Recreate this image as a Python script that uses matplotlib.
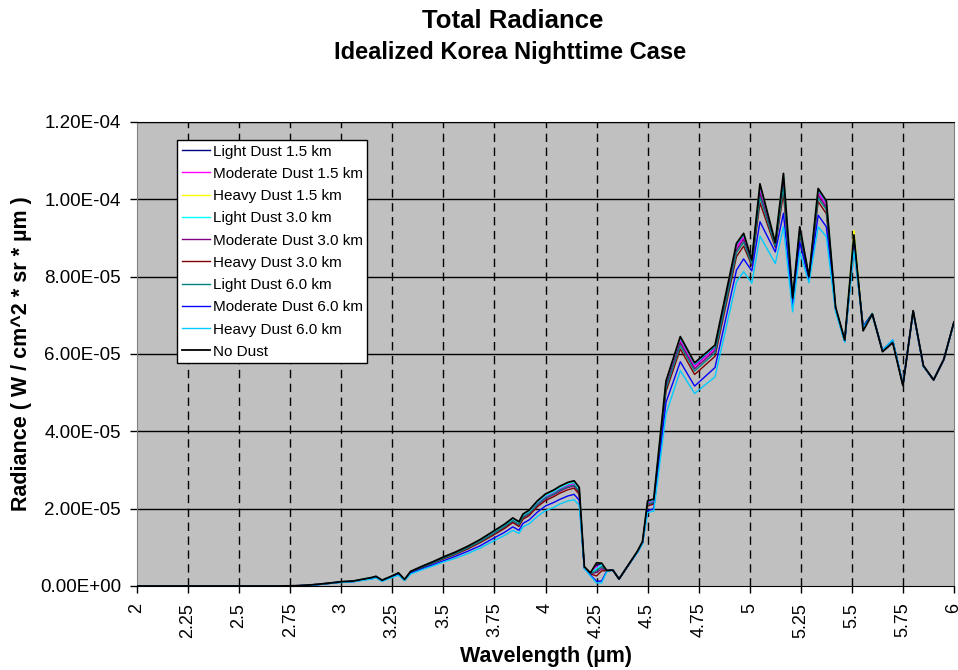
import matplotlib
matplotlib.use("Agg")
import matplotlib.pyplot as plt
import numpy as np

plt.rcParams['font.family'] = ['Liberation Sans', 'DejaVu Sans']

# Wavelength grid (µm)
wavelength = [2.00, 2.25, 2.50, 2.70, 2.80, 2.88, 2.95, 3.00, 3.06, 3.11,
              3.15, 3.17, 3.20, 3.24, 3.28, 3.31, 3.34, 3.40, 3.45, 3.50,
              3.56, 3.62, 3.68, 3.74, 3.80, 3.84, 3.87, 3.89, 3.92, 3.96,
              4.00, 4.04, 4.07, 4.11, 4.14, 4.165, 4.19, 4.22, 4.25, 4.275,
              4.30, 4.33, 4.36, 4.41, 4.45, 4.475, 4.50, 4.53, 4.59, 4.66,
              4.73, 4.83, 4.935, 4.97, 5.01, 5.05, 5.125, 5.165, 5.21, 5.245,
              5.29, 5.335, 5.375, 5.42, 5.465, 5.51, 5.555, 5.60, 5.65, 5.70,
              5.75, 5.80, 5.85, 5.90, 5.95, 6.00]

# Radiance values in units of 1e-5 W / cm^2 / sr / µm
light_1_5 = [0, 0, 0, 0, 0.01, 0.04, 0.08, 0.11, 0.13, 0.18,
             0.22, 0.25, 0.15, 0.24, 0.33, 0.17, 0.37, 0.51, 0.62, 0.74,
             0.86, 1.01, 1.18, 1.37, 1.57, 1.72, 1.63, 1.82, 1.92, 2.16,
             2.33, 2.43, 2.53, 2.63, 2.67, 2.50, 0.49, 0.33, 0.55, 0.56,
             0.40, 0.41, 0.18, 0.58, 0.89, 1.14, 2.16, 2.21, 5.25, 6.39,
             5.71, 6.17, 8.79, 9.05, 8.40, 10.30, 8.86, 10.57, 7.43, 9.25,
             7.99, 10.21, 9.89, 7.21, 6.36, 9.02, 6.68, 7.04, 6.08, 6.32,
             5.19, 7.12, 5.70, 5.33, 5.86, 6.83]
moderate_1_5 = [0, 0, 0, 0, 0.01, 0.04, 0.08, 0.11, 0.13, 0.17,
                0.21, 0.24, 0.15, 0.23, 0.33, 0.16, 0.37, 0.50, 0.61, 0.73,
                0.85, 1.00, 1.16, 1.36, 1.55, 1.71, 1.61, 1.80, 1.90, 2.13,
                2.31, 2.41, 2.50, 2.60, 2.64, 2.47, 0.49, 0.33, 0.50, 0.52,
                0.40, 0.41, 0.18, 0.58, 0.89, 1.14, 2.14, 2.19, 5.22, 6.35,
                5.68, 6.14, 8.76, 9.02, 8.39, 10.25, 8.84, 10.52, 7.41, 9.23,
                7.99, 10.18, 9.86, 7.20, 6.35, 8.98, 6.70, 7.04, 6.08, 6.33,
                5.19, 7.12, 5.70, 5.33, 5.86, 6.83]
heavy_1_5 = [0, 0, 0, 0, 0.01, 0.04, 0.08, 0.11, 0.13, 0.18,
             0.22, 0.25, 0.15, 0.24, 0.34, 0.17, 0.38, 0.51, 0.62, 0.74,
             0.87, 1.02, 1.19, 1.39, 1.58, 1.74, 1.64, 1.84, 1.94, 2.18,
             2.36, 2.46, 2.55, 2.65, 2.69, 2.52, 0.50, 0.34, 0.60, 0.58,
             0.40, 0.41, 0.18, 0.58, 0.90, 1.15, 2.19, 2.24, 5.29, 6.44,
             5.76, 6.22, 8.85, 9.11, 8.42, 10.38, 8.88, 10.65, 7.45, 9.28,
             8.00, 10.27, 9.95, 7.22, 6.36, 9.20, 6.68, 7.05, 6.08, 6.32,
             5.18, 7.13, 5.70, 5.33, 5.86, 6.83]
light_3_0 = [0, 0, 0, 0, 0.01, 0.04, 0.08, 0.11, 0.13, 0.18,
             0.22, 0.25, 0.15, 0.24, 0.33, 0.17, 0.37, 0.51, 0.62, 0.74,
             0.87, 1.01, 1.18, 1.38, 1.58, 1.73, 1.64, 1.83, 1.93, 2.17,
             2.34, 2.44, 2.54, 2.64, 2.68, 2.51, 0.49, 0.33, 0.45, 0.55,
             0.40, 0.41, 0.18, 0.58, 0.89, 1.14, 2.18, 2.22, 5.27, 6.42,
             5.74, 6.20, 8.83, 9.09, 8.42, 10.35, 8.87, 10.62, 7.44, 9.27,
             8.00, 10.25, 9.93, 7.21, 6.36, 9.05, 6.70, 7.05, 6.08, 6.33,
             5.19, 7.12, 5.70, 5.33, 5.86, 6.83]
moderate_3_0 = [0, 0, 0, 0, 0.01, 0.04, 0.08, 0.10, 0.12, 0.17,
                0.21, 0.24, 0.14, 0.23, 0.32, 0.16, 0.36, 0.49, 0.60, 0.71,
                0.84, 0.98, 1.14, 1.33, 1.52, 1.67, 1.58, 1.77, 1.86, 2.09,
                2.26, 2.36, 2.45, 2.55, 2.58, 2.42, 0.48, 0.32, 0.35, 0.45,
                0.40, 0.41, 0.18, 0.57, 0.88, 1.13, 2.10, 2.15, 5.16, 6.29,
                5.62, 6.09, 8.69, 8.96, 8.36, 10.16, 8.82, 10.41, 7.39, 9.19,
                7.98, 10.11, 9.79, 7.19, 6.35, 8.92, 6.71, 7.04, 6.09, 6.34,
                5.20, 7.11, 5.69, 5.33, 5.86, 6.82]
heavy_3_0 = [0, 0, 0, 0, 0.01, 0.04, 0.07, 0.10, 0.12, 0.17,
             0.20, 0.23, 0.14, 0.22, 0.32, 0.16, 0.35, 0.48, 0.59, 0.70,
             0.82, 0.96, 1.12, 1.30, 1.49, 1.64, 1.54, 1.73, 1.82, 2.05,
             2.21, 2.31, 2.40, 2.49, 2.53, 2.37, 0.48, 0.31, 0.26, 0.39,
             0.40, 0.41, 0.18, 0.57, 0.88, 1.12, 2.07, 2.12, 5.03, 6.13,
             5.47, 5.94, 8.52, 8.79, 8.29, 9.91, 8.76, 10.16, 7.33, 9.10,
             7.95, 9.94, 9.63, 7.18, 6.34, 8.88, 6.71, 7.04, 6.09, 6.35,
             5.20, 7.10, 5.69, 5.33, 5.85, 6.82]
light_6_0 = [0, 0, 0, 0, 0.01, 0.04, 0.08, 0.11, 0.12, 0.17,
             0.21, 0.24, 0.14, 0.23, 0.33, 0.16, 0.36, 0.50, 0.60, 0.72,
             0.84, 0.99, 1.15, 1.34, 1.54, 1.69, 1.59, 1.79, 1.88, 2.11,
             2.28, 2.38, 2.48, 2.57, 2.61, 2.45, 0.48, 0.32, 0.40, 0.50,
             0.40, 0.41, 0.18, 0.57, 0.88, 1.13, 2.11, 2.16, 5.11, 6.22,
             5.56, 6.03, 8.62, 8.89, 8.33, 10.06, 8.80, 10.31, 7.36, 9.15,
             7.97, 10.04, 9.73, 7.20, 6.35, 8.95, 6.72, 7.05, 6.09, 6.34,
             5.19, 7.11, 5.69, 5.33, 5.86, 6.82]
moderate_6_0 = [0, 0, 0, 0, 0.01, 0.03, 0.07, 0.10, 0.11, 0.16,
                0.19, 0.22, 0.13, 0.21, 0.30, 0.15, 0.33, 0.45, 0.55, 0.65,
                0.77, 0.90, 1.04, 1.22, 1.39, 1.53, 1.44, 1.62, 1.71, 1.91,
                2.07, 2.16, 2.24, 2.33, 2.37, 2.22, 0.46, 0.28, 0.12, 0.13,
                0.39, 0.41, 0.18, 0.57, 0.87, 1.10, 1.95, 2.00, 4.75, 5.80,
                5.17, 5.65, 8.17, 8.46, 8.15, 9.42, 8.64, 9.64, 7.20, 8.90,
                7.90, 9.59, 9.29, 7.14, 6.32, 8.78, 6.70, 7.02, 6.10, 6.36,
                5.21, 7.09, 5.68, 5.33, 5.85, 6.81]
heavy_6_0 = [0, 0, 0, 0, 0.01, 0.03, 0.07, 0.09, 0.11, 0.15,
             0.18, 0.21, 0.12, 0.20, 0.28, 0.14, 0.31, 0.43, 0.52, 0.62,
             0.72, 0.84, 0.98, 1.15, 1.31, 1.44, 1.36, 1.53, 1.61, 1.80,
             1.95, 2.03, 2.12, 2.20, 2.23, 2.09, 0.45, 0.26, 0.08, 0.08,
             0.37, 0.41, 0.18, 0.57, 0.86, 1.09, 1.90, 1.94, 4.45, 5.57,
             4.98, 5.41, 7.87, 8.13, 7.83, 9.05, 8.34, 9.29, 7.09, 8.64,
             7.84, 9.29, 9.03, 7.10, 6.30, 8.69, 6.68, 7.00, 6.10, 6.37,
             5.22, 7.08, 5.68, 5.33, 5.85, 6.80]
no_dust = [0, 0, 0, 0, 0.01, 0.04, 0.08, 0.11, 0.13, 0.18,
           0.22, 0.25, 0.15, 0.24, 0.34, 0.17, 0.38, 0.52, 0.63, 0.75,
           0.88, 1.03, 1.20, 1.40, 1.60, 1.76, 1.66, 1.86, 1.96, 2.20,
           2.38, 2.48, 2.58, 2.68, 2.72, 2.55, 0.50, 0.34, 0.60, 0.59,
           0.40, 0.41, 0.18, 0.58, 0.90, 1.15, 2.20, 2.25, 5.30, 6.45,
           5.77, 6.23, 8.86, 9.12, 8.43, 10.40, 8.88, 10.67, 7.45, 9.29,
           8.00, 10.28, 9.96, 7.22, 6.36, 9.08, 6.60, 7.03, 6.06, 6.29,
           5.18, 7.12, 5.70, 5.33, 5.86, 6.83]

series_labels = ["Light Dust 1.5 km", "Moderate Dust 1.5 km", "Heavy Dust 1.5 km",
                 "Light Dust 3.0 km", "Moderate Dust 3.0 km", "Heavy Dust 3.0 km",
                 "Light Dust 6.0 km", "Moderate Dust 6.0 km", "Heavy Dust 6.0 km",
                 "No Dust"]
series_values = [light_1_5, moderate_1_5, heavy_1_5, light_3_0, moderate_3_0,
                 heavy_3_0, light_6_0, moderate_6_0, heavy_6_0, no_dust]
series_colors = ["#000080", "#FF00FF", "#FFFF00", "#00FFFF", "#800080",
                 "#800000", "#008080", "#0000FF", "#00CCFF", "#000000"]

x_ticks = [2, 2.25, 2.5, 2.75, 3, 3.25, 3.5, 3.75, 4, 4.25, 4.5, 4.75,
           5, 5.25, 5.5, 5.75, 6]
x_tick_labels = ["2", "2.25", "2.5", "2.75", "3", "3.25", "3.5", "3.75", "4",
                 "4.25", "4.5", "4.75", "5", "5.25", "5.5", "5.75", "6"]
y_ticks = [0, 2e-5, 4e-5, 6e-5, 8e-5, 1e-4, 1.2e-4]
y_tick_labels = ["0.00E+00", "2.00E-05", "4.00E-05", "6.00E-05", "8.00E-05",
                 "1.00E-04", "1.20E-04"]

SCALE = 1e-5

fig = plt.figure(figsize=(9.58, 6.70), dpi=100)
ax = fig.add_axes([137/958, 1-586/670, (954-137)/958, (586-122)/670])
ax.set_facecolor("#C0C0C0")

x = np.array(wavelength)
for vals, lab, col in zip(series_values, series_labels, series_colors):
    lw = 1.3 if col == "#000000" else 1.0
    ax.plot(x, np.array(vals) * SCALE, color=col, lw=lw, label=lab, zorder=3)

ax.set_xlim(2, 6)
ax.set_ylim(0, 1.2e-4)
ax.set_xticks(x_ticks)
ax.set_xticklabels(x_tick_labels, rotation=90, va="top", ha="center", fontsize=13)
ax.set_yticks(y_ticks)
ax.set_yticklabels(y_tick_labels, fontsize=13.5)
ax.tick_params(axis="both", direction="out", length=5, width=1, color="black")
ax.tick_params(axis="y", pad=6.5)
ax.tick_params(axis="x", pad=7)

for yv in y_ticks[1:]:
    ax.axhline(yv, color="black", lw=1.0, zorder=1)
for xv in x_ticks[1:-1]:
    ax.axvline(xv, color="black", lw=1.0, linestyle=(0, (6, 4)), zorder=1)

ax.spines["left"].set_color("#808080")
ax.spines["right"].set_color("#808080")
ax.spines["top"].set_color("black")
ax.spines["bottom"].set_color("black")

ax.set_xlabel("Wavelength (µm)", fontsize=15.5, fontweight="bold", labelpad=6)
ax.set_ylabel("Radiance ( W / cm^2 * sr * µm )", fontsize=15.5, fontweight="bold", labelpad=6)

leg = ax.legend(loc="upper left", bbox_to_anchor=((177-137)/817, (586-140)/464),
                borderaxespad=0, fontsize=11, frameon=True, fancybox=False,
                edgecolor="black", framealpha=1, facecolor="white",
                handlelength=1.85, handletextpad=0.2, labelspacing=0.54,
                borderpad=0.3)
leg.get_frame().set_linewidth(1.0)

fig.text(513/958, 1-21/670, "Total Radiance", ha="center", va="center",
         fontsize=18.5, fontweight="bold")
fig.text(510/958, 1-53/670, "Idealized Korea Nighttime Case", ha="center", va="center",
         fontsize=17, fontweight="bold")

fig.savefig("out.png", dpi=100)
